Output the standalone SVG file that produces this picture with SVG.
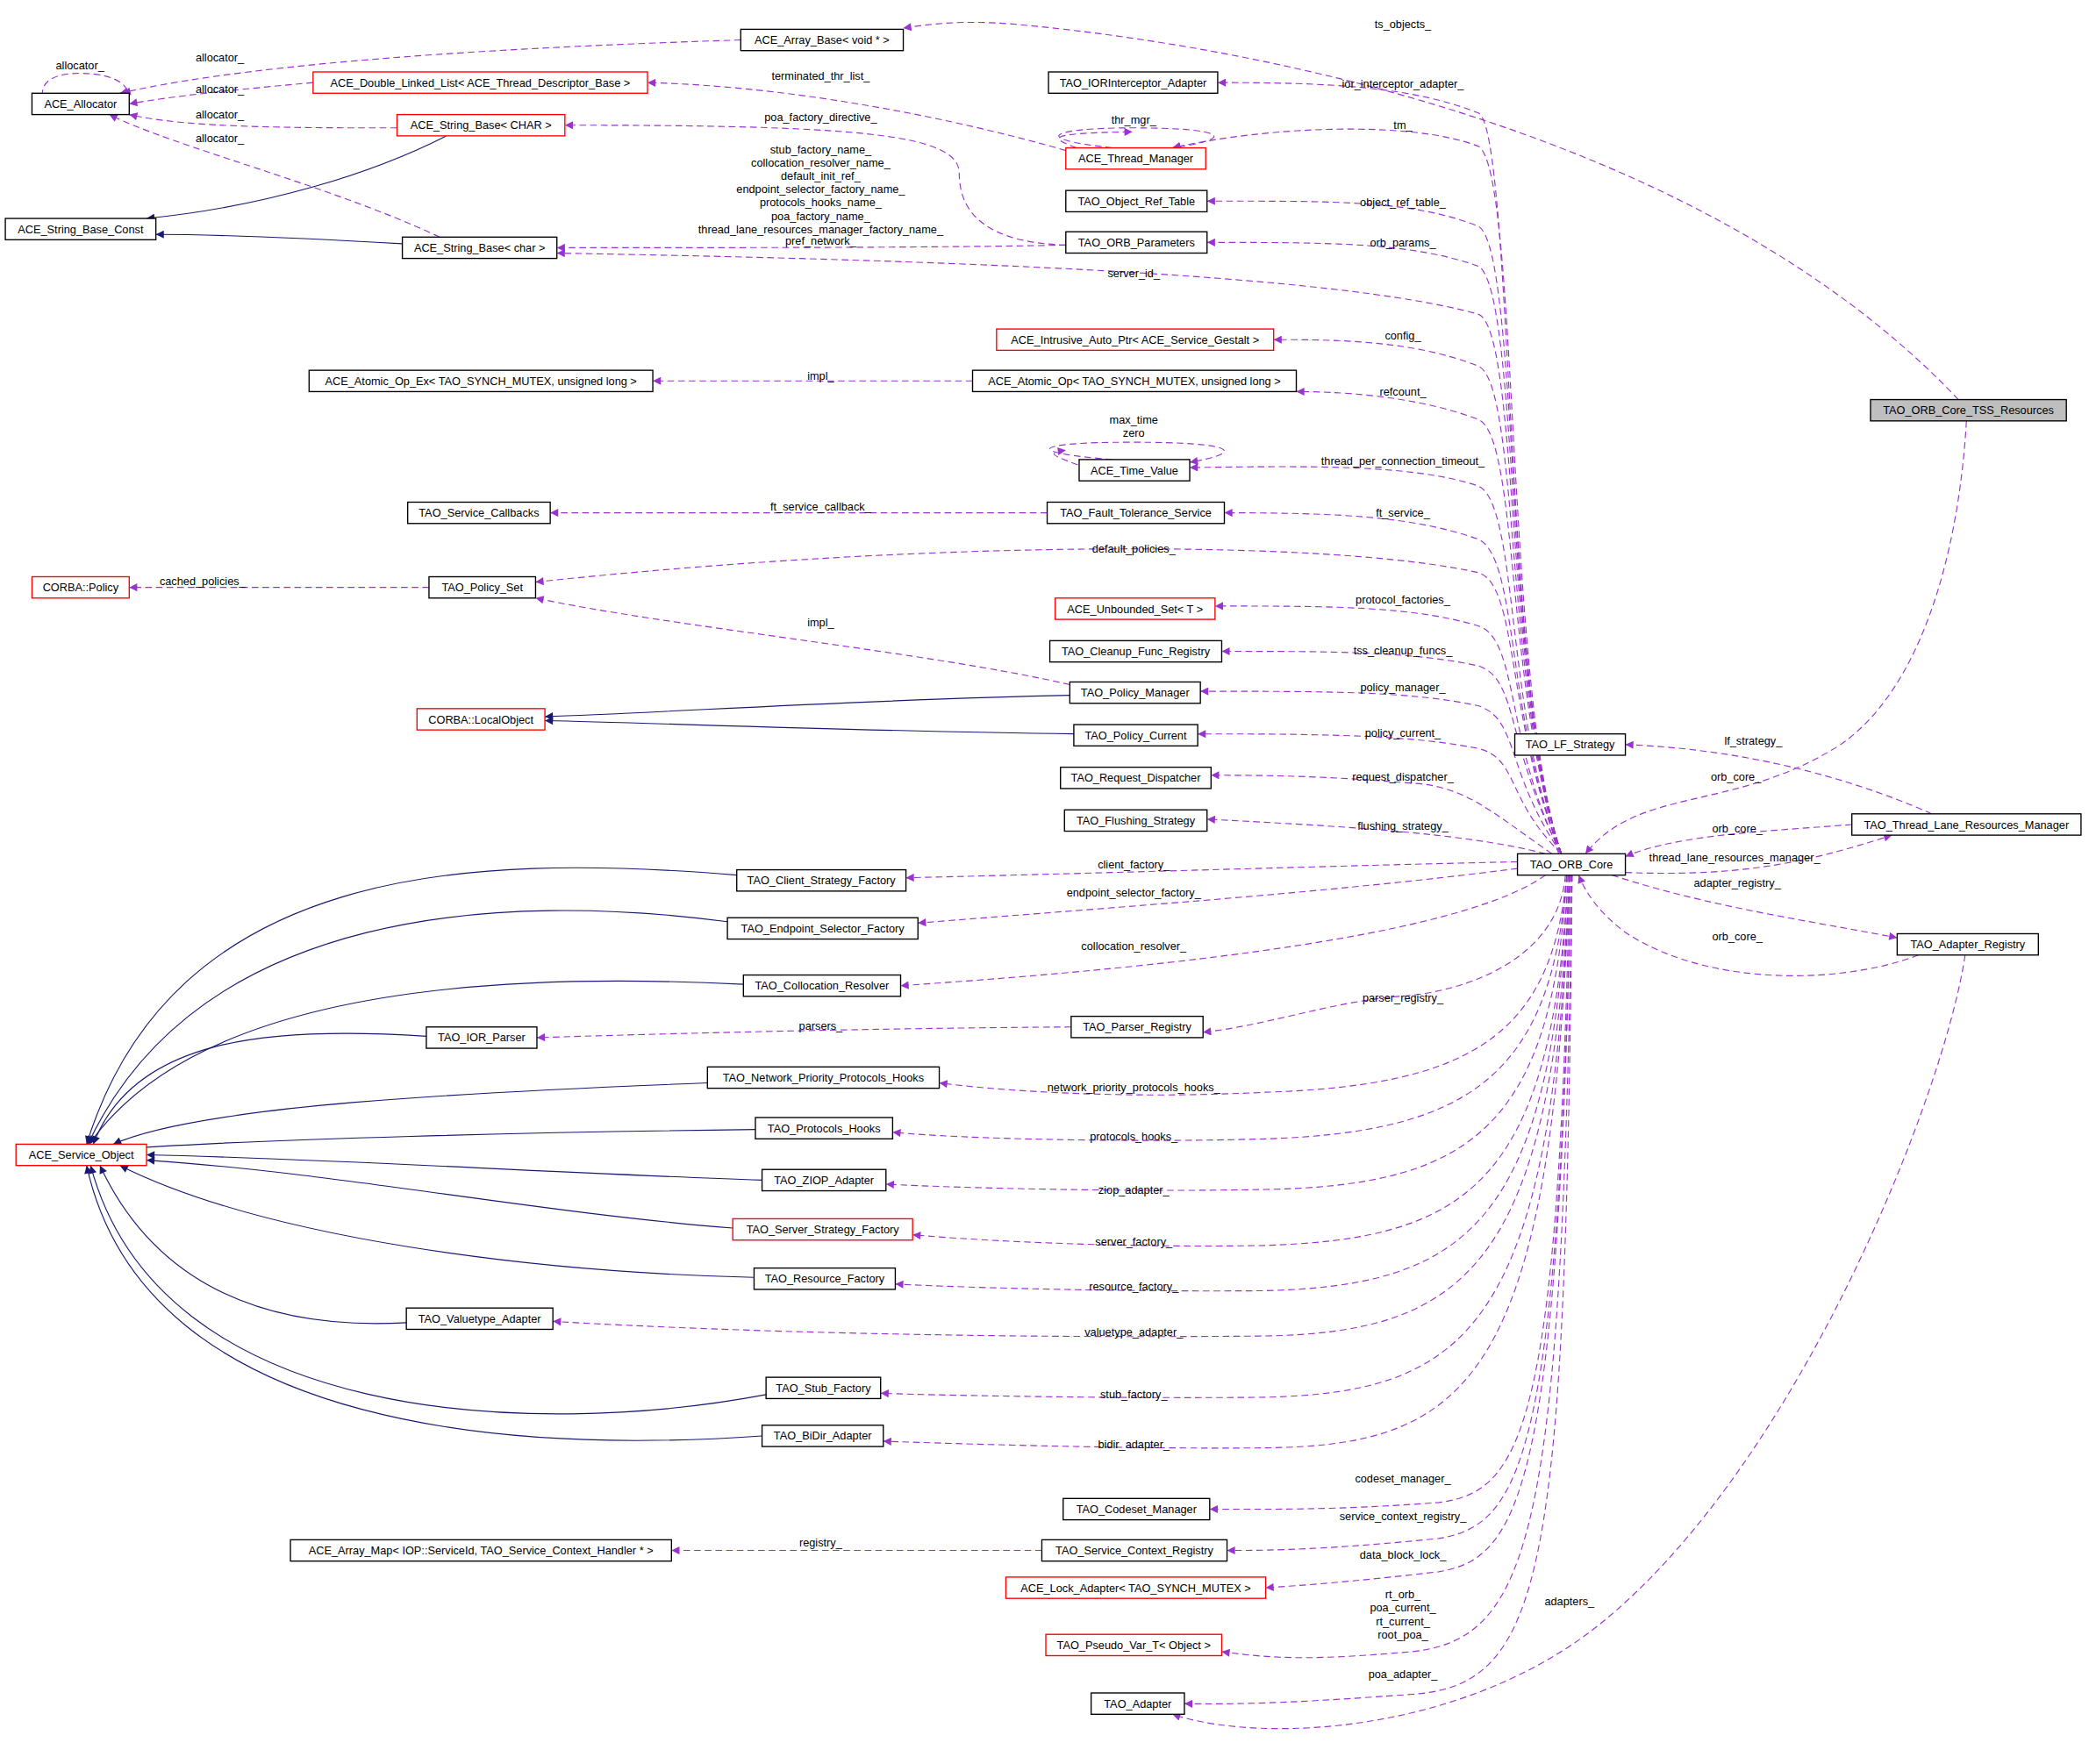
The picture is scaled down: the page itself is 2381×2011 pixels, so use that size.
<svg xmlns="http://www.w3.org/2000/svg" width="2381" height="2011" viewBox="0 0 2381 2011">
<defs>
<style>
.n rect{fill:#fff;stroke:#000;stroke-width:0.9}
.n.r rect{stroke:#f00}
.n.g rect{fill:#bfbfbf}
text{font-family:"Liberation Sans",Arial,sans-serif;font-size:8.4px;fill:#000}
.n text{text-anchor:middle}
.lb{text-anchor:middle}
.d{fill:none;stroke:#9a32cd;stroke-width:0.75;stroke-dasharray:5,3;marker-end:url(#pa)}
.s{fill:none;stroke:#191970;stroke-width:0.75;marker-end:url(#na)}
</style>
<marker id="pa" viewBox="0 0 10 10" refX="10" refY="5" markerWidth="8" markerHeight="6" markerUnits="userSpaceOnUse" orient="auto"><path d="M0,0L10,5L0,10z" fill="#9a32cd"/></marker>
<marker id="na" viewBox="0 0 10 10" refX="10" refY="5" markerWidth="8" markerHeight="6" markerUnits="userSpaceOnUse" orient="auto"><path d="M0,0L10,5L0,10z" fill="#191970"/></marker>
</defs>
<rect width="2381" height="2011" fill="#fff"/>
<g transform="scale(1.5185)">
<g id="connectors">
<!-- allocator edges -->
<path class="d" d="M40,86 C25,70 30,55 60,55 C90,55 100,68 92,70"/>
<path class="d" d="M556,30 C400,35 200,45 90,70"/>
<path class="d" d="M235,62 C180,67 130,72 97,78"/>
<path class="d" d="M298,96 C220,96 140,96 97,86"/>
<path class="d" d="M330,178 C250,140 130,110 82,86"/>
<!-- inheritance string -->
<path class="s" d="M335,102 C280,130 200,155 110,164"/>
<path class="s" d="M302,183 C250,180 170,176 117,176"/>
<!-- thread manager -->
<path class="d" d="M800,113 C720,90 600,65 486,62"/>
<path class="d" d="M835,111 C770,104 790,96 850,96 C920,96 930,104 880,111"/>
<path class="d" d="M800,184 C740,182 720,160 720,130 C720,100 640,94 424,94"/>
<path class="d" d="M800,184 C700,186 550,186 418,186"/>
<path class="d" d="M808,111 C790,104 780,100 850,99"/>
<!-- ORB_Core upward -->
<path class="d" d="M1170,641 C1130,520 1135,100 1110,85 C1060,65 1000,62 914,62"/>
<path class="d" d="M1172,641 C1130,520 1140,130 1110,110 C1060,90 950,95 880,111"/>
<path class="d" d="M1172,641 C1130,520 1140,190 1110,170 C1060,150 1000,151 906,151"/>
<path class="d" d="M1172,641 C1130,520 1140,220 1110,200 C1060,182 1000,182 906,182"/>
<path class="d" d="M1172,641 C1130,520 1140,250 1110,236 C1000,205 700,195 418,190"/>
<path class="d" d="M1172,641 C1130,520 1140,290 1110,275 C1060,255 1000,255 956,255"/>
<path class="d" d="M1172,641 C1130,520 1140,330 1110,315 C1060,296 1000,294 973,294"/>
<path class="d" d="M1172,641 C1130,540 1140,380 1110,365 C1060,348 980,350 893,351"/>
<path class="d" d="M1172,641 C1130,540 1140,420 1110,405 C1060,387 1000,385 919,385"/>
<path class="d" d="M1172,641 C1130,540 1140,440 1110,430 C1000,405 700,405 402,437"/>
<path class="d" d="M1172,641 C1130,560 1140,480 1110,470 C1060,455 1000,455 912,455"/>
<path class="d" d="M1172,641 C1130,560 1140,510 1110,500 C1060,489 1000,489 917,489"/>
<path class="d" d="M1172,641 C1130,580 1140,540 1110,530 C1060,519 1000,519 901,519"/>
<path class="d" d="M1172,641 C1130,600 1140,570 1110,562 C1060,552 1000,551 899,551"/>
<path class="d" d="M1165,641 C1120,610 1100,590 1060,588 C1000,583 960,582 909,582"/>
<path class="d" d="M1160,641 C1100,625 1000,620 906,615"/>
<path class="d" d="M1139,647 C1000,650 850,655 680,659"/>
<path class="d" d="M1139,652 C1000,670 850,680 689,693"/>
<!-- ORB_Core downward -->
<path class="d" d="M1160,657 C1100,700 900,725 676,740"/>
<path class="d" d="M1175,657 C1170,720 1100,745 1050,748 C1000,752 950,770 903,775"/>
<path class="d" d="M1176,657 C1165,780 1100,815 950,820 C850,825 760,820 705,813"/>
<path class="d" d="M1176,657 C1165,810 1100,850 950,855 C850,858 720,855 670,850"/>
<path class="d" d="M1176,657 C1165,850 1100,890 950,893 C850,895 720,892 665,889"/>
<path class="d" d="M1177,657 C1165,890 1100,930 950,935 C850,937 740,932 685,927"/>
<path class="d" d="M1177,657 C1165,920 1100,965 950,969 C850,970 730,967 672,964"/>
<path class="d" d="M1178,657 C1165,950 1100,1000 950,1003 C750,1005 550,1000 415,992"/>
<path class="d" d="M1178,657 C1165,1000 1100,1045 950,1049 C850,1050 720,1048 661,1046"/>
<path class="d" d="M1178,657 C1165,1040 1100,1085 950,1087 C850,1088 720,1084 663,1082"/>
<path class="d" d="M1178,657 C1170,1080 1140,1120 1080,1128 C1000,1134 950,1133 908,1133"/>
<path class="d" d="M1179,657 C1170,1100 1140,1145 1080,1155 C1000,1163 960,1164 921,1164"/>
<path class="d" d="M1179,657 C1170,1120 1140,1170 1080,1180 C1010,1188 980,1190 950,1192"/>
<path class="d" d="M1180,657 C1172,1150 1150,1230 1060,1240 C990,1246 960,1246 917,1240"/>
<path class="d" d="M1180,657 C1175,1180 1160,1265 1060,1272 C990,1277 940,1280 889,1279"/>
<path class="d" d="M1475,717 C1460,820 1350,1100 1200,1220 C1100,1300 950,1310 880,1287"/>
<!-- service object chain etc -->
<path class="d" d="M730,286 L490,286"/>
<path class="d" d="M786,385 L413,385"/>
<path class="d" d="M322,441 L97,441"/>
<path class="d" d="M803,514 C700,490 500,470 402,449"/>
<path class="d" d="M804,771 C650,772 500,776 403,779"/>
<path class="d" d="M782,1164 L504,1164"/>
<path class="d" d="M835,345 C770,340 770,332 850,332 C930,332 935,340 893,347"/>
<path class="d" d="M809,349 C790,342 785,340 800,338"/>
<!-- TSS resources, TLRM, adapter registry -->
<path class="d" d="M1470,300 C1300,120 1000,40 760,18 C720,15 700,18 678,21"/>
<path class="d" d="M1476,316 C1470,420 1440,520 1380,560 C1300,610 1230,590 1190,641"/>
<path class="d" d="M1450,611 C1380,580 1300,562 1220,559"/>
<path class="d" d="M1390,619 C1330,624 1260,626 1220,643"/>
<path class="d" d="M1220,655 C1300,658 1350,650 1420,627"/>
<path class="d" d="M1210,657 C1280,680 1350,690 1424,704"/>
<path class="d" d="M1440,717 C1380,740 1280,740 1220,700 C1200,685 1190,670 1185,657"/>
<!-- inheritance -->
<path class="s" d="M803,522 C650,525 500,535 409,538"/>
<path class="s" d="M806,551 C650,549 500,543 409,541"/>
<path class="s" d="M553,657 C350,640 130,650 65,859"/>
<path class="s" d="M546,692 C380,670 150,680 66,859"/>
<path class="s" d="M558,739 C380,730 150,740 67,859"/>
<path class="s" d="M320,778 C200,770 100,780 70,859"/>
<path class="s" d="M531,813 C350,820 150,830 85,859"/>
<path class="s" d="M567,848 C400,850 200,855 100,862"/>
<path class="s" d="M572,886 C400,880 250,870 110,867"/>
<path class="s" d="M550,922 C400,910 250,880 110,871"/>
<path class="s" d="M566,959 C400,955 200,930 90,875"/>
<path class="s" d="M305,993 C180,1000 110,950 75,875"/>
<path class="s" d="M575,1047 C400,1080 120,1070 68,875"/>
<path class="s" d="M572,1078 C400,1090 110,1080 65,875"/>
</g>
<g id="labels">
<text class="lb" x="60" y="52">allocator_</text>
<text class="lb" x="165" y="46">allocator_</text>
<text class="lb" x="165" y="70">allocator_</text>
<text class="lb" x="165" y="89">allocator_</text>
<text class="lb" x="165" y="107">allocator_</text>
<text class="lb" x="616" y="60">terminated_thr_list_</text>
<text class="lb" x="616" y="91">poa_factory_directive_</text>
<text class="lb" x="616" y="115">stub_factory_name_</text>
<text class="lb" x="616" y="125">collocation_resolver_name_</text>
<text class="lb" x="616" y="135">default_init_ref_</text>
<text class="lb" x="616" y="145">endpoint_selector_factory_name_</text>
<text class="lb" x="616" y="155">protocols_hooks_name_</text>
<text class="lb" x="616" y="165">poa_factory_name_</text>
<text class="lb" x="616" y="175">thread_lane_resources_manager_factory_name_</text>
<text class="lb" x="616" y="184">pref_network_</text>
<text class="lb" x="851" y="93">thr_mgr_</text>
<text class="lb" x="1053" y="21">ts_objects_</text>
<text class="lb" x="1053" y="66">ior_interceptor_adapter_</text>
<text class="lb" x="1053" y="97">tm_</text>
<text class="lb" x="1053" y="155">object_ref_table_</text>
<text class="lb" x="1053" y="185">orb_params_</text>
<text class="lb" x="851" y="208">server_id_</text>
<text class="lb" x="1053" y="255">config_</text>
<text class="lb" x="1053" y="297">refcount_</text>
<text class="lb" x="616" y="285">impl_</text>
<text class="lb" x="851" y="318">max_time</text>
<text class="lb" x="851" y="328">zero</text>
<text class="lb" x="1053" y="349">thread_per_connection_timeout_</text>
<text class="lb" x="616" y="383">ft_service_callback_</text>
<text class="lb" x="1053" y="388">ft_service_</text>
<text class="lb" x="152" y="439">cached_policies_</text>
<text class="lb" x="851" y="415">default_policies_</text>
<text class="lb" x="1053" y="453">protocol_factories_</text>
<text class="lb" x="616" y="470">impl_</text>
<text class="lb" x="1053" y="491">tss_cleanup_funcs_</text>
<text class="lb" x="1053" y="519">policy_manager_</text>
<text class="lb" x="1053" y="553">policy_current_</text>
<text class="lb" x="1316" y="559">lf_strategy_</text>
<text class="lb" x="1303" y="586">orb_core_</text>
<text class="lb" x="1053" y="586">request_dispatcher_</text>
<text class="lb" x="1053" y="623">flushing_strategy_</text>
<text class="lb" x="1304" y="625">orb_core_</text>
<text class="lb" x="1302" y="647">thread_lane_resources_manager_</text>
<text class="lb" x="851" y="652">client_factory_</text>
<text class="lb" x="851" y="673">endpoint_selector_factory_</text>
<text class="lb" x="1304" y="666">adapter_registry_</text>
<text class="lb" x="1304" y="706">orb_core_</text>
<text class="lb" x="851" y="713">collocation_resolver_</text>
<text class="lb" x="1053" y="752">parser_registry_</text>
<text class="lb" x="616" y="773">parsers_</text>
<text class="lb" x="851" y="819">network_priority_protocols_hooks_</text>
<text class="lb" x="851" y="856">protocols_hooks_</text>
<text class="lb" x="851" y="896">ziop_adapter_</text>
<text class="lb" x="851" y="935">server_factory_</text>
<text class="lb" x="851" y="969">resource_factory_</text>
<text class="lb" x="851" y="1003">valuetype_adapter_</text>
<text class="lb" x="851" y="1050">stub_factory_</text>
<text class="lb" x="851" y="1087">bidir_adapter_</text>
<text class="lb" x="1053" y="1113">codeset_manager_</text>
<text class="lb" x="1053" y="1141">service_context_registry_</text>
<text class="lb" x="616" y="1161">registry_</text>
<text class="lb" x="1053" y="1170">data_block_lock_</text>
<text class="lb" x="1178" y="1205">adapters_</text>
<text class="lb" x="1053" y="1200">rt_orb_</text>
<text class="lb" x="1053" y="1210">poa_current_</text>
<text class="lb" x="1053" y="1220">rt_current_</text>
<text class="lb" x="1053" y="1230">root_poa_</text>
<text class="lb" x="1053" y="1260">poa_adapter_</text>
</g>
<g id="ACE_Array_Base" class="n"><rect x="556" y="22" width="122" height="16"/><text x="617" y="33">ACE_Array_Base&lt; void * &gt;</text></g>
<g id="ACE_Allocator" class="n"><rect x="24" y="70" width="73" height="16"/><text x="60.5" y="81">ACE_Allocator</text></g>
<g id="ACE_Double_Linked_List" class="n r"><rect x="235" y="54" width="251" height="16"/><text x="360.5" y="65">ACE_Double_Linked_List&lt; ACE_Thread_Descriptor_Base &gt;</text></g>
<g id="ACE_String_Base_CHAR" class="n r"><rect x="298" y="86" width="126" height="16"/><text x="361" y="97">ACE_String_Base&lt; CHAR &gt;</text></g>
<g id="ACE_String_Base_Const" class="n"><rect x="4" y="164" width="113" height="16"/><text x="60.5" y="175">ACE_String_Base_Const</text></g>
<g id="ACE_String_Base_char" class="n"><rect x="302" y="178" width="116" height="16"/><text x="360" y="189">ACE_String_Base&lt; char &gt;</text></g>
<g id="TAO_IORInterceptor_Adapter" class="n"><rect x="787" y="54" width="127" height="16"/><text x="850.5" y="65">TAO_IORInterceptor_Adapter</text></g>
<g id="ACE_Thread_Manager" class="n r"><rect x="800" y="111" width="105" height="16"/><text x="852.5" y="122">ACE_Thread_Manager</text></g>
<g id="TAO_Object_Ref_Table" class="n"><rect x="800" y="143" width="106" height="16"/><text x="853" y="154">TAO_Object_Ref_Table</text></g>
<g id="TAO_ORB_Parameters" class="n"><rect x="800" y="174" width="106" height="16"/><text x="853" y="185">TAO_ORB_Parameters</text></g>
<g id="ACE_Intrusive_Auto_Ptr" class="n r"><rect x="748" y="247" width="208" height="16"/><text x="852" y="258">ACE_Intrusive_Auto_Ptr&lt; ACE_Service_Gestalt &gt;</text></g>
<g id="ACE_Atomic_Op_Ex" class="n"><rect x="232" y="278" width="258" height="16"/><text x="361" y="289">ACE_Atomic_Op_Ex&lt; TAO_SYNCH_MUTEX, unsigned long &gt;</text></g>
<g id="ACE_Atomic_Op" class="n"><rect x="730" y="278" width="243" height="16"/><text x="851.5" y="289">ACE_Atomic_Op&lt; TAO_SYNCH_MUTEX, unsigned long &gt;</text></g>
<g id="ACE_Time_Value" class="n"><rect x="810" y="345" width="83" height="16"/><text x="851.5" y="356">ACE_Time_Value</text></g>
<g id="TAO_Service_Callbacks" class="n"><rect x="306" y="377" width="107" height="16"/><text x="359.5" y="388">TAO_Service_Callbacks</text></g>
<g id="TAO_Fault_Tolerance_Service" class="n"><rect x="786" y="377" width="133" height="16"/><text x="852.5" y="388">TAO_Fault_Tolerance_Service</text></g>
<g id="CORBA_Policy" class="n r"><rect x="24" y="433" width="73" height="16"/><text x="60.5" y="444">CORBA::Policy</text></g>
<g id="TAO_Policy_Set" class="n"><rect x="322" y="433" width="80" height="16"/><text x="362" y="444">TAO_Policy_Set</text></g>
<g id="ACE_Unbounded_Set" class="n r"><rect x="792" y="449" width="120" height="16"/><text x="852" y="460">ACE_Unbounded_Set&lt; T &gt;</text></g>
<g id="TAO_Cleanup_Func_Registry" class="n"><rect x="788" y="481" width="129" height="16"/><text x="852.5" y="492">TAO_Cleanup_Func_Registry</text></g>
<g id="TAO_Policy_Manager" class="n"><rect x="803" y="512" width="98" height="16"/><text x="852" y="523">TAO_Policy_Manager</text></g>
<g id="CORBA_LocalObject" class="n r"><rect x="313" y="532" width="96" height="16"/><text x="361" y="543">CORBA::LocalObject</text></g>
<g id="TAO_Policy_Current" class="n"><rect x="806" y="544" width="93" height="16"/><text x="852.5" y="555">TAO_Policy_Current</text></g>
<g id="TAO_LF_Strategy" class="n"><rect x="1137" y="551" width="83" height="16"/><text x="1178.5" y="562">TAO_LF_Strategy</text></g>
<g id="TAO_ORB_Core_TSS_Resources" class="n g"><rect x="1404" y="300" width="147" height="16"/><text x="1477.5" y="311">TAO_ORB_Core_TSS_Resources</text></g>
<g id="TAO_Request_Dispatcher" class="n"><rect x="796" y="576" width="113" height="16"/><text x="852.5" y="587">TAO_Request_Dispatcher</text></g>
<g id="TAO_Flushing_Strategy" class="n"><rect x="799" y="608" width="107" height="16"/><text x="852.5" y="619">TAO_Flushing_Strategy</text></g>
<g id="TAO_Thread_Lane_Resources_Manager" class="n"><rect x="1390" y="611" width="172" height="16"/><text x="1476" y="622">TAO_Thread_Lane_Resources_Manager</text></g>
<g id="TAO_ORB_Core" class="n"><rect x="1139" y="641" width="81" height="16"/><text x="1179.5" y="652">TAO_ORB_Core</text></g>
<g id="TAO_Client_Strategy_Factory" class="n"><rect x="553" y="653" width="127" height="16"/><text x="616.5" y="664">TAO_Client_Strategy_Factory</text></g>
<g id="TAO_Endpoint_Selector_Factory" class="n"><rect x="546" y="689" width="143" height="16"/><text x="617.5" y="700">TAO_Endpoint_Selector_Factory</text></g>
<g id="TAO_Adapter_Registry" class="n"><rect x="1424" y="701" width="106" height="16"/><text x="1477" y="712">TAO_Adapter_Registry</text></g>
<g id="TAO_Collocation_Resolver" class="n"><rect x="558" y="732" width="118" height="16"/><text x="617" y="743">TAO_Collocation_Resolver</text></g>
<g id="TAO_Parser_Registry" class="n"><rect x="804" y="763" width="99" height="16"/><text x="853.5" y="774">TAO_Parser_Registry</text></g>
<g id="TAO_IOR_Parser" class="n"><rect x="320" y="771" width="83" height="16"/><text x="361.5" y="782">TAO_IOR_Parser</text></g>
<g id="TAO_Network_Priority_Protocols_Hooks" class="n"><rect x="531" y="801" width="174" height="16"/><text x="618" y="812">TAO_Network_Priority_Protocols_Hooks</text></g>
<g id="TAO_Protocols_Hooks" class="n"><rect x="567" y="839" width="103" height="16"/><text x="618.5" y="850">TAO_Protocols_Hooks</text></g>
<g id="ACE_Service_Object" class="n r"><rect x="12" y="859" width="98" height="16"/><text x="61" y="870">ACE_Service_Object</text></g>
<g id="TAO_ZIOP_Adapter" class="n"><rect x="572" y="878" width="93" height="16"/><text x="618.5" y="889">TAO_ZIOP_Adapter</text></g>
<g id="TAO_Server_Strategy_Factory" class="n r"><rect x="550" y="915" width="135" height="16"/><text x="617.5" y="926">TAO_Server_Strategy_Factory</text></g>
<g id="TAO_Resource_Factory" class="n"><rect x="566" y="952" width="106" height="16"/><text x="619" y="963">TAO_Resource_Factory</text></g>
<g id="TAO_Valuetype_Adapter" class="n"><rect x="305" y="982" width="110" height="16"/><text x="360" y="993">TAO_Valuetype_Adapter</text></g>
<g id="TAO_Stub_Factory" class="n"><rect x="575" y="1034" width="86" height="16"/><text x="618" y="1045">TAO_Stub_Factory</text></g>
<g id="TAO_BiDir_Adapter" class="n"><rect x="572" y="1070" width="91" height="16"/><text x="617.5" y="1081">TAO_BiDir_Adapter</text></g>
<g id="TAO_Codeset_Manager" class="n"><rect x="798" y="1125" width="110" height="16"/><text x="853" y="1136">TAO_Codeset_Manager</text></g>
<g id="ACE_Array_Map" class="n"><rect x="218" y="1156" width="286" height="16"/><text x="361" y="1167">ACE_Array_Map&lt; IOP::ServiceId, TAO_Service_Context_Handler * &gt;</text></g>
<g id="TAO_Service_Context_Registry" class="n"><rect x="782" y="1156" width="139" height="16"/><text x="851.5" y="1167">TAO_Service_Context_Registry</text></g>
<g id="ACE_Lock_Adapter" class="n r"><rect x="755" y="1184" width="195" height="16"/><text x="852.5" y="1195">ACE_Lock_Adapter&lt; TAO_SYNCH_MUTEX &gt;</text></g>
<g id="TAO_Pseudo_Var_T" class="n r"><rect x="785" y="1227" width="132" height="16"/><text x="851" y="1238">TAO_Pseudo_Var_T&lt; Object &gt;</text></g>
<g id="TAO_Adapter" class="n"><rect x="819" y="1271" width="70" height="16"/><text x="854" y="1282">TAO_Adapter</text></g>
</g>
</svg>
